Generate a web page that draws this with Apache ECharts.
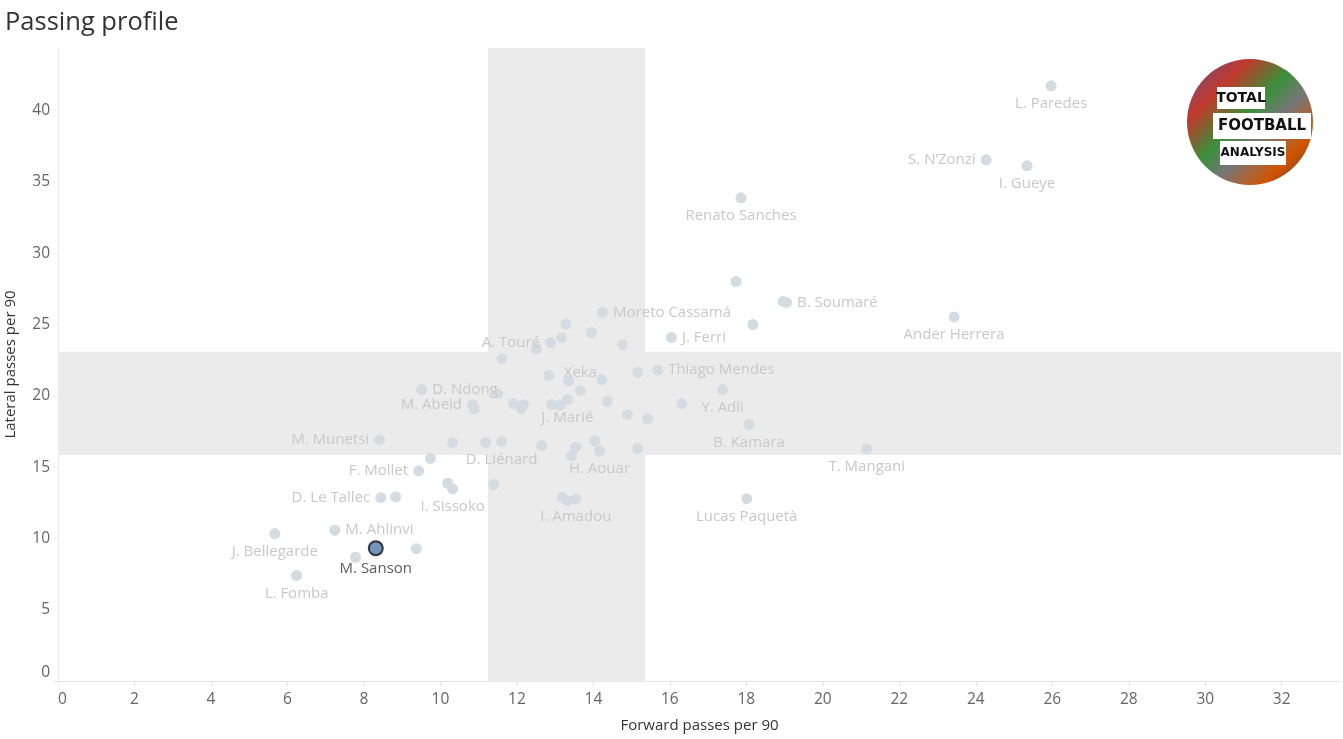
<!DOCTYPE html>
<html>
<head>
<meta charset="utf-8">
<script src="https://cdn.jsdelivr.net/npm/echarts@6/dist/echarts.min.js"></script>
<style>
html,body{margin:0;padding:0;background:#fff;}
#chart{width:1343px;height:739px;}
</style>
</head>
<body>
<div id="chart"></div>
<script>
// ---- data ----
var players = ['Moreto Cassamá','','','','A. Touré','','','J. Ferri','','',
  '','','','Thiago Mendes','D. Ndong','','M. Abeid','','','',
  '','','','J. Marié','Xeka','','','','','Y. Adli',
  'M. Munetsi','','','D. Liénard','','','','','H. Aouar','',
  '','F. Mollet','','I. Sissoko','','D. Le Tallec','','','','I. Amadou',
  'J. Bellegarde','M. Ahlinvi','M. Sanson','','','L. Fomba','','','B. Soumaré','',
  'B. Kamara','Lucas Paquetà','Renato Sanches','L. Paredes','S. N’Zonzi','I. Gueye','Ander Herrera','T. Mangani'];
var forwardPasses = [14.24,13.28,13.95,13.17,12.88,12.51,14.76,16.04,11.61,12.83,
  13.35,14.22,15.16,15.68,9.51,11.50,10.84,10.88,11.91,12.17,
  12.12,12.91,13.12,13.32,13.66,14.37,14.89,15.42,16.31,17.38,
  8.41,10.32,11.18,11.60,12.65,13.54,13.43,14.04,14.16,15.16,
  9.74,9.43,10.19,10.32,11.39,8.44,8.83,13.18,13.31,13.54,
  5.67,7.24,8.31,7.78,9.37,6.24,17.73,18.96,19.05,18.17,
  18.07,18.01,17.86,25.97,24.27,25.34,23.43,21.15];
var lateralPasses = [25.85,25.03,24.44,24.09,23.74,23.30,23.60,24.09,22.60,21.42,
  21.07,21.14,21.64,21.82,20.44,20.16,19.37,19.09,19.46,19.37,
  19.09,19.39,19.32,19.74,20.37,19.60,18.69,18.39,19.46,20.44,
  16.91,16.72,16.72,16.79,16.51,16.40,15.81,16.86,16.14,16.30,
  15.60,14.74,13.87,13.47,13.78,12.86,12.91,12.89,12.65,12.77,
  10.34,10.58,9.31,8.68,9.28,7.40,28.02,26.62,26.55,25.00,
  17.99,12.79,33.89,41.75,36.56,36.14,25.54,16.28];
var forwardBand = [11.24, 15.35];
var lateralBand = [15.86, 23.09];
var xTicks = [0,2,4,6,8,10,12,14,16,18,20,22,24,26,28,30,32];
var yTicks = [0,5,10,15,20,25,30,35,40];
var highlighted = 'M. Sanson';

// ---- label placement (style only) ----
var labelStyle = {
  'Moreto Cassamá': {position:'right'},
  'J. Ferri': {position:'right'},
  'Thiago Mendes': {position:'right'},
  'B. Soumaré': {position:'right', offset:[-4,0]},
  'M. Ahlinvi': {position:'right'},
  'D. Ndong': {position:'right', offset:[0,-14]},
  'M. Abeid': {position:'left'},
  'M. Munetsi': {position:'left'},
  'F. Mollet': {position:'left'},
  'D. Le Tallec': {position:'left'},
  'S. N’Zonzi': {position:'left'},
  'A. Touré': {position:'left', offset:[-3,-12]},
  'Xeka': {position:'top', offset:[5,-10]},
  'J. Marié': {position:'bottom', offset:[-1,4]},
  'D. Liénard': {position:'bottom', offset:[6,4]},
  'H. Aouar': {position:'bottom', offset:[-6,10]},
  'Y. Adli': {position:'bottom', offset:[-3,0]}
};

var FONT = '"Open Sans", "Liberation Sans", sans-serif';
var baseData = [], hiData = [];
for (var i = 0; i < players.length; i++) {
  var name = players[i];
  var ls = labelStyle[name] || {position:'bottom'};
  var item = {
    name: name,
    value: [forwardPasses[i], lateralPasses[i]],
    label: {
      show: name !== '',
      position: ls.position,
      offset: ls.offset || [0,0],
      distance: 5
    }
  };
  if (name === highlighted) hiData.push(item); else baseData.push(item);
}

var chart = echarts.init(document.getElementById('chart'), null, {renderer:'canvas'});
chart.setOption({
  animation: false,
  backgroundColor: '#ffffff',
  textStyle: {fontFamily: FONT},
  title: {
    text: 'Passing profile', left: 0, top: 5,
    textStyle: {fontFamily: FONT, fontSize: 25.5, fontWeight: 'normal', color: '#333333'}
  },
  grid: {left: 58, right: 2, top: 48, bottom: 58, containLabel: false, outerBoundsMode: 'none'},
  xAxis: {
    type: 'value', min: 0, max: 33.55,
    name: 'Forward passes per 90', nameLocation: 'middle', nameGap: 37,
    nameTextStyle: {color: '#333333', fontSize: 15, fontFamily: FONT},
    axisLine: {show: true, lineStyle: {color: '#e6e6e6'}},
    axisTick: {show: true, length: 5, lineStyle: {color: '#e6e6e6'}, customValues: xTicks},
    axisLabel: {color: '#666666', fontSize: 15.5, margin: 11, customValues: xTicks, alignMinLabel: 'left', fontFamily: FONT},
    splitLine: {show: false}
  },
  yAxis: {
    type: 'value', min: 0, max: 44.4,
    name: 'Lateral passes per 90', nameLocation: 'middle', nameGap: 40,
    nameTextStyle: {color: '#333333', fontSize: 15, fontFamily: FONT},
    axisLine: {show: true, lineStyle: {color: '#ececec'}},
    axisTick: {show: true, length: 5, lineStyle: {color: '#ececec'}, customValues: yTicks},
    axisLabel: {color: '#666666', fontSize: 15.5, margin: 8, customValues: yTicks, verticalAlignMinLabel: 'bottom', fontFamily: FONT},
    splitLine: {show: false}
  },
  series: [
    {
      type: 'scatter', z: 1, data: [], silent: true,
      markArea: {
        silent: true,
        itemStyle: {color: '#ebebeb', opacity: 1},
        data: [
          [{xAxis: forwardBand[0]}, {xAxis: forwardBand[1]}],
          [{yAxis: lateralBand[0]}, {yAxis: lateralBand[1]}]
        ]
      }
    },
    {
      type: 'scatter', z: 3,
      symbolSize: 11,
      itemStyle: {color: '#d3dbe3', opacity: 1},
      label: {color: '#c8c8c8', fontSize: 15, fontFamily: FONT, formatter: '{b}'},
      labelLayout: {hideOverlap: false},
      data: baseData
    },
    {
      type: 'scatter', z: 5,
      symbolSize: 14,
      itemStyle: {color: '#4e79a7', borderColor: '#111111', borderWidth: 2},
      label: {color: '#333333', fontSize: 15, fontFamily: FONT, formatter: '{b}', distance: 6},
      data: hiData
    }
  ],
  graphic: [
    {
      type: 'group', left: 1187, top: 59,
      children: [
        {type: 'circle', shape: {cx: 63, cy: 63, r: 63},
          style: {fill: new echarts.graphic.LinearGradient(0,0,1,1,[
            {offset:0, color:'#6a4f8c'},{offset:0.25, color:'#c0392b'},
            {offset:0.45, color:'#3a8f3a'},{offset:0.6, color:'#777777'},
            {offset:0.8, color:'#d35400'},{offset:1, color:'#2c3e50'}])}},
        {type: 'rect', shape: {x: 30, y: 28, width: 48, height: 22}, style: {fill: '#ffffff'}},
        {type: 'text', style: {x: 54, y: 39, text: 'TOTAL', fill: '#111', font: 'bold 14px "DejaVu Sans"', align: 'center', verticalAlign: 'middle'}},
        {type: 'rect', shape: {x: 26, y: 54, width: 98, height: 26}, style: {fill: '#ffffff'}},
        {type: 'text', style: {x: 75, y: 67, text: 'FOOTBALL', fill: '#111', font: 'bold 15px "DejaVu Sans"', align: 'center', verticalAlign: 'middle'}},
        {type: 'rect', shape: {x: 33, y: 82, width: 66, height: 24}, style: {fill: '#ffffff'}},
        {type: 'text', style: {x: 66, y: 94, text: 'ANALYSIS', fill: '#111', font: 'bold 12px "DejaVu Sans"', align: 'center', verticalAlign: 'middle'}}
      ]
    }
  ]
});
</script>
</body>
</html>
